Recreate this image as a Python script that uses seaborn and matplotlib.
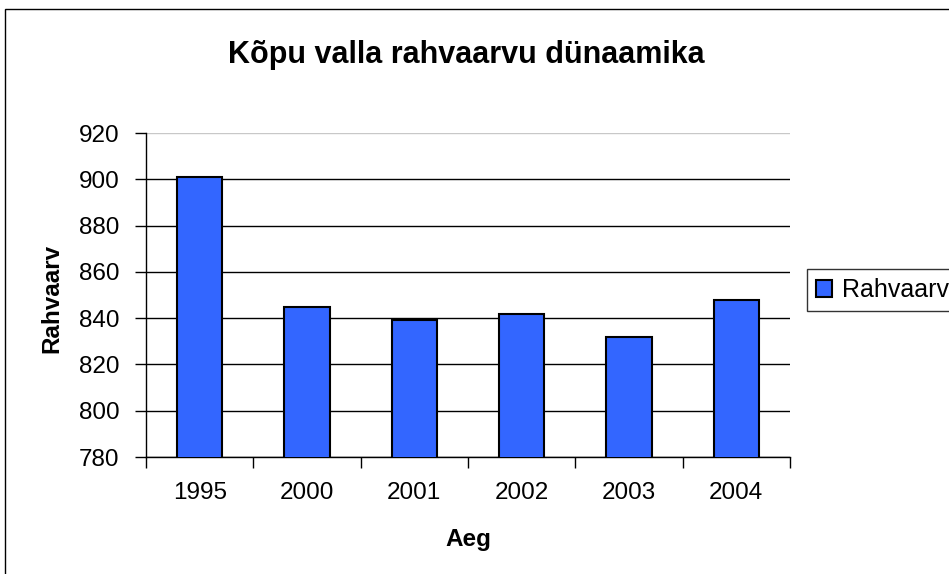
import matplotlib
matplotlib.use("Agg")
import matplotlib.pyplot as plt
from matplotlib.patches import Rectangle
import numpy as np
import pandas as pd
import seaborn as sns

# data
years = ["1995", "2000", "2001", "2002", "2003", "2004"]
population = [901, 845, 839, 842, 832, 848]
series_name = "Rahvaarv"

sns.set_theme(style="white")
plt.rcParams["font.family"] = ["Liberation Sans", "DejaVu Sans"]
plt.rcParams["text.color"] = "black"
plt.rcParams["axes.labelcolor"] = "black"
plt.rcParams["xtick.color"] = "black"
plt.rcParams["ytick.color"] = "black"

df = pd.DataFrame({"Aeg": years, series_name: population})

fig = plt.figure(figsize=(9.49, 5.74), dpi=100)
ax = fig.add_axes([146 / 949, 1 - 457 / 574, 644 / 949, 324 / 574])

sns.barplot(data=df, x="Aeg", y=series_name, color="#3366FF", edgecolor="black",
            linewidth=1.5, width=0.42, saturation=1, label=series_name, ax=ax, zorder=3)

ax.set_ylim(780, 920)
ax.set_yticks(np.arange(780, 921, 20))
ax.set_xlim(-0.5, len(years) - 0.5)

# gridlines
ax.yaxis.grid(True, color="black", lw=1)
ax.set_axisbelow(True)
ax.get_ygridlines()[-1].set_color("#c8c8c8")

# spines
for s in ["top", "right"]:
    ax.spines[s].set_visible(False)
for s in ["left", "bottom"]:
    ax.spines[s].set_color("black")
    ax.spines[s].set_linewidth(1)

# category ticks sit between bars, labels centred under bars
ax.set_xticks(np.arange(-0.5, len(years), 1))
ax.set_xticklabels([])
ax.set_xticks(np.arange(len(years)), minor=True)
ax.set_xticklabels(years, minor=True, fontsize=17.5)
ax.tick_params(axis="x", which="major", direction="out", length=8, width=1, bottom=True)
ax.tick_params(axis="x", which="minor", length=0, pad=18, bottom=True)
ax.tick_params(axis="y", direction="out", length=8, width=1, left=True,
               labelsize=17.5, pad=11)

ax.set_xlabel("Aeg", fontsize=17.5, fontweight="bold")
ax.xaxis.set_label_coords(0.5, -0.22)
ax.set_ylabel("Rahvaarv", fontsize=17.5, fontweight="bold")
ax.yaxis.set_label_coords(-0.128, 0.49)

fig.text(466 / 949, 1 - 55 / 574, "Kõpu valla rahvaarvu dünaamika", ha="center", va="center",
         fontsize=22, fontweight="bold")

leg = ax.legend(loc="center left", bbox_to_anchor=(807 / 949, 1 - 290 / 574),
                bbox_transform=fig.transFigure, fontsize=18, frameon=True, fancybox=False,
                edgecolor="black", handlelength=0.65, handleheight=0.65, handletextpad=0.4,
                borderpad=0.35, borderaxespad=0)
leg.get_frame().set_linewidth(1)

# outer chart border
fig.patches.append(Rectangle((5 / 949, -0.1), 2, 1.1 - 9 / 574, transform=fig.transFigure,
                             fill=False, edgecolor="black", lw=1))

fig.savefig("out.png", dpi=100)
